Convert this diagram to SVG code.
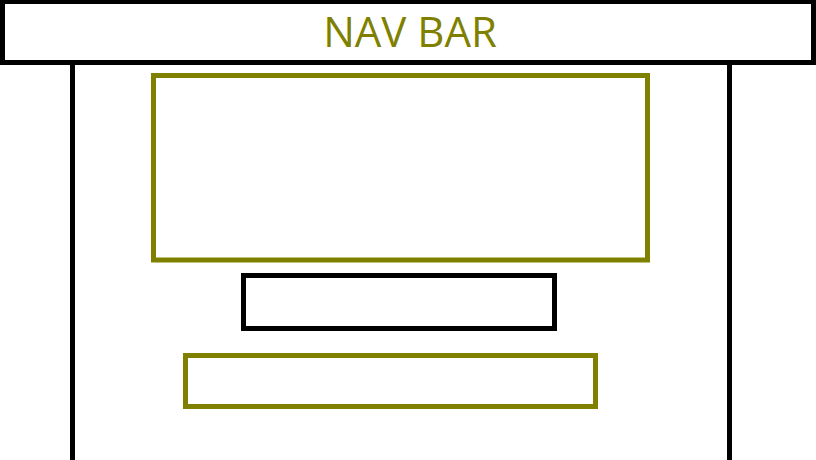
<svg xmlns="http://www.w3.org/2000/svg" width="816" height="460" viewBox="0 0 816 460">
<style>
.blk{fill:none;stroke:#000;stroke-width:5}
.olv{fill:none;stroke:#808000;stroke-width:5}
.lbl{font-family:"Open Sans","Noto Sans",sans-serif;font-size:42px;fill:#808000;text-anchor:middle}
</style>
<rect width="816" height="460" fill="#fff"/>
<g id="connectors">
<line class="blk" x1="72.5" y1="63" x2="72.5" y2="460"/>
<line class="blk" x1="729.5" y1="63" x2="729.5" y2="460"/>
</g>
<g id="navbar">
<rect class="blk" x="2.5" y="1.5" width="811" height="61"/>
<text class="lbl" x="410" y="47">NAV BAR</text>
</g>
<g id="hero"><rect class="olv" x="153.5" y="75.5" width="494" height="184.5"/></g>
<g id="middle"><rect class="blk" x="243.5" y="275.5" width="311" height="53"/></g>
<g id="bottom"><rect class="olv" x="185.5" y="355.5" width="410" height="51"/></g>
</svg>
